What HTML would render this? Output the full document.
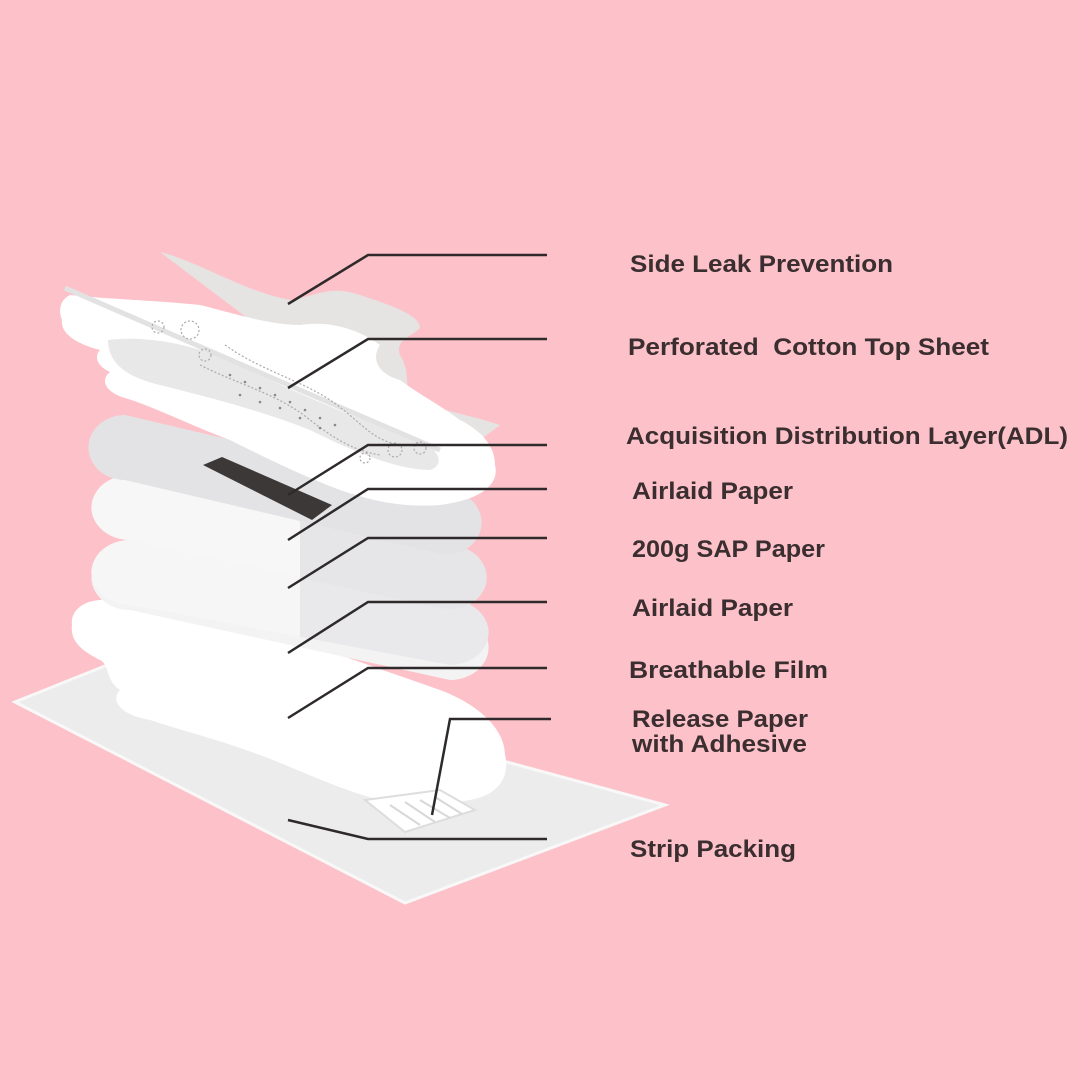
<!DOCTYPE html>
<html><head><meta charset="utf-8"><style>
html,body{margin:0;padding:0;background:#fdc2c9;}
svg{display:block}
text{font-family:"Liberation Sans",sans-serif;font-weight:bold;font-size:24px;fill:#3a2e30;}
</style></head><body>
<svg width="1080" height="1080" viewBox="0 0 1080 1080" xmlns="http://www.w3.org/2000/svg">
<rect width="1080" height="1080" fill="#fdc2c9"/>
<!-- strip packing -->
<polygon points="15,702 125,658 665,805 405,903" fill="#ececec" stroke="#f8f8f8" stroke-width="3"/>
<!-- breathable film -->
<path d="M110,600 C150,590 190,600 240,620 L440,690 C480,705 505,730 505,755 C510,775 500,795 470,800 C440,805 400,805 380,800 C340,790 300,770 260,755 C220,740 180,730 150,720 C120,715 110,700 120,690 C105,680 110,665 100,660 C80,650 70,640 72,625 C70,610 85,598 110,600 Z" fill="#ffffff"/>
<!-- release paper -->
<g>
<polygon points="365,800 440,790 475,810 405,832" fill="#ffffff" stroke="#dddddd" stroke-width="2"/>
<path d="M390,805 L420,825 M405,802 L435,822 M420,800 L450,818 M435,797 L462,814" stroke="#d8d8d8" stroke-width="2"/>
</g>
<!-- airlaid 2 -->
<path d="M130,545 L450,615 A38,32 0 0 1 450,680 L130,610 A38,32 0 0 1 130,545 Z" fill="#f3f3f4"/>
<!-- SAP -->
<path d="M130,540 L450,600 A38,32 0 0 1 450,665 L130,605 A38,32 0 0 1 130,540 Z" fill="#e9e9eb"/>
<path d="M130,540 L300,572 L300,637 L130,605 A38,32 0 0 1 130,540 Z" fill="#f6f6f6"/>
<!-- airlaid 1 -->
<path d="M130,475 L448,545 A38,32 0 0 1 448,610 L130,540 A38,32 0 0 1 130,475 Z" fill="#f7f7f7"/>
<path d="M300,515 L448,545 A38,32 0 0 1 448,610 L300,578 Z" fill="#e6e6e8"/>
<!-- ADL -->
<path d="M125,415 L445,490 A36,32 0 0 1 445,555 L125,480 A36,32 0 0 1 125,415 Z" fill="#e3e3e5"/>
<polygon points="203,465 222,457 332,505 312,520" fill="#3d3838"/>
<!-- side leak strip -->
<path d="M160,252 C200,262 240,290 290,300 C320,295 330,285 360,295 C390,305 420,315 420,328 C410,338 395,340 400,355 C410,370 405,385 410,400 C440,410 470,415 500,425 L480,440 C420,420 350,395 300,375 L250,320 Z" fill="#e6e3e3"/>
<!-- top sheet -->
<path d="M70,295 C120,300 150,300 200,305 C240,315 270,325 300,325 C330,320 360,330 380,345 C370,360 380,375 400,380 C420,395 440,405 460,420 C480,430 495,445 495,465 C500,485 480,500 440,505 C400,508 370,500 340,490 C300,475 260,455 230,440 C190,425 150,405 125,398 C105,392 100,380 110,372 C95,365 95,355 100,350 C80,345 60,335 62,320 C58,310 60,300 70,295 Z" fill="#ffffff"/>
<path d="M108,340 C150,335 200,345 250,370 C300,395 360,420 420,440 C440,450 445,465 430,470 C400,470 360,455 310,430 C260,410 200,395 160,385 C130,378 108,365 108,340 Z" fill="#e8e8e8"/>
<path d="M65,288 L300,390 L440,450" stroke="#e2e2e2" stroke-width="5" fill="none"/>
<g fill="none" stroke="#aaa" stroke-width="1.2" stroke-dasharray="2,2">
<circle cx="190" cy="330" r="9"/><circle cx="158" cy="327" r="6"/><circle cx="205" cy="355" r="6"/>
<path d="M225,345 C260,370 300,380 330,400 C360,420 370,440 400,445"/>
<path d="M200,365 C240,385 280,395 310,420 C330,435 350,450 380,455"/>
<circle cx="395" cy="450" r="7"/><circle cx="420" cy="448" r="6"/><circle cx="365" cy="458" r="5"/>
</g>
<g fill="#888">
<circle cx="230" cy="375" r="1.3"/><circle cx="245" cy="382" r="1.3"/><circle cx="260" cy="388" r="1.3"/><circle cx="275" cy="395" r="1.3"/><circle cx="290" cy="402" r="1.3"/><circle cx="305" cy="410" r="1.3"/><circle cx="320" cy="418" r="1.3"/><circle cx="335" cy="425" r="1.3"/>
<circle cx="240" cy="395" r="1.3"/><circle cx="260" cy="402" r="1.3"/><circle cx="280" cy="408" r="1.3"/><circle cx="300" cy="418" r="1.3"/><circle cx="320" cy="428" r="1.3"/>
</g>
<!-- leader lines -->
<g fill="none" stroke="#2e2a2b" stroke-width="2.5">
<polyline points="288,304 368,255 547,255"/>
<polyline points="288,388 368,339 547,339"/>
<polyline points="288,495 368,445 547,445"/>
<polyline points="288,540 368,489 547,489"/>
<polyline points="288,588 368,538 547,538"/>
<polyline points="288,653 368,602 547,602"/>
<polyline points="288,718 368,668 547,668"/>
<polyline points="432,815 450,719 551,719"/>
<polyline points="288,820 368,839 547,839"/>
</g>
<!-- labels -->
<text x="630" y="272" textLength="263" lengthAdjust="spacingAndGlyphs">Side Leak Prevention</text>
<text x="628" y="355" textLength="361" lengthAdjust="spacingAndGlyphs" xml:space="preserve">Perforated  Cotton Top Sheet</text>
<text x="626" y="444" textLength="442" lengthAdjust="spacingAndGlyphs">Acquisition Distribution Layer(ADL)</text>
<text x="632" y="499" textLength="161" lengthAdjust="spacingAndGlyphs">Airlaid Paper</text>
<text x="632" y="557" textLength="193" lengthAdjust="spacingAndGlyphs">200g SAP Paper</text>
<text x="632" y="616" textLength="161" lengthAdjust="spacingAndGlyphs">Airlaid Paper</text>
<text x="629" y="678" textLength="199" lengthAdjust="spacingAndGlyphs">Breathable Film</text>
<text x="632" y="727" textLength="176" lengthAdjust="spacingAndGlyphs">Release Paper</text>
<text x="632" y="752" textLength="175" lengthAdjust="spacingAndGlyphs">with Adhesive</text>
<text x="630" y="857" textLength="166" lengthAdjust="spacingAndGlyphs">Strip Packing</text>
</svg>
</body></html>
